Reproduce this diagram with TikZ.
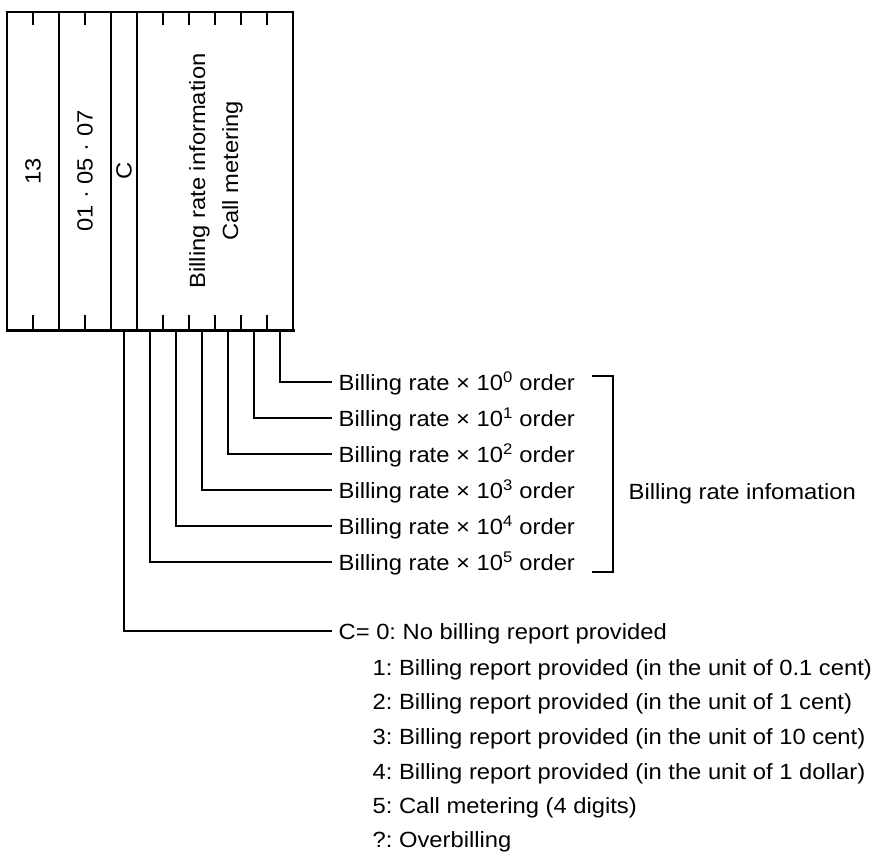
\documentclass[tikz,border=0pt]{standalone}
\usepackage{fontspec}
\setmainfont{Liberation Sans}[FakeStretch=1.08]
\frenchspacing
\begin{document}
\begin{tikzpicture}[x=1pt,y=-1pt,line width=1.3pt,
  lbl/.style={font=\fontsize{22}{33}\selectfont,inner sep=0pt},
  item/.style={lbl,anchor=base west},
  frame/.style={line width=1.4pt},
  lead/.style={line width=1.3pt},
  gap/.style={xshift=-6pt,yshift=8pt}]
\useasboundingbox (0,0) rectangle (888,852);

% field frame
\draw[frame] (7,330) -- (7,12) -- (293,12) -- (293,330);
\foreach \x in {59,111,137} \draw[frame] (\x,12) -- (\x,330);
\foreach \x in {33,85,163,189,215,241,267} {
  \draw[frame] (\x,12) -- (\x,25);
  \draw[frame] (\x,315) -- (\x,330);
}
\draw[line width=3pt] (6,330) -- (295,330);

% field contents
\node[lbl,rotate=90] (f13) at (33,171) {13};
\node[lbl,rotate=90] (fadr) at (85,171) {01 · 05 · 07};
\node[lbl,rotate=90] (fc) at (124,171) {C};
\node[lbl,rotate=90,align=center] (fbill) at (216,171) {Billing rate information\\Call metering};

% bit positions under the field
\coordinate (cbit) at (124,331);
\coordinate (b5) at (150,331);
\coordinate (b4) at (176,331);
\coordinate (b3) at (202,331);
\coordinate (b2) at (228,331);
\coordinate (b1) at (254,331);
\coordinate (b0) at (280,331);

% billing rate digits
\node[item] (t0) at (338,390) {Billing rate × 10\textsuperscript{0} order};
\node[item] (t1) at (338,426) {Billing rate × 10\textsuperscript{1} order};
\node[item] (t2) at (338,462) {Billing rate × 10\textsuperscript{2} order};
\node[item] (t3) at (338,498) {Billing rate × 10\textsuperscript{3} order};
\node[item] (t4) at (338,534) {Billing rate × 10\textsuperscript{4} order};
\node[item] (t5) at (338,570) {Billing rate × 10\textsuperscript{5} order};
\foreach \i in {0,...,5} \draw[lead] (b\i) |- ([gap]t\i.base west);

% bracket and group label
\coordinate (brt) at (592,376);
\coordinate (brb) at (592,572);
\draw[lead] (brt) -- ++(21,0) |- (brb);
\node[item] (grp) at (628,499) {Billing rate infomation};

% C values
\node[item] (c0) at (338,639) {C= 0: No billing report provided};
\node[item] (c1) at (372,675) {1: Billing report provided (in the unit of 0.1 cent)};
\node[item] (c2) at (372,709) {2: Billing report provided (in the unit of 1 cent)};
\node[item] (c3) at (372,744) {3: Billing report provided (in the unit of 10 cent)};
\node[item] (c4) at (372,779) {4: Billing report provided (in the unit of 1 dollar)};
\node[item] (c5) at (372,813) {5: Call metering (4 digits)};
\node[item] (c6) at (372,847) {?: Overbilling};
\draw[lead] (cbit) |- ([gap]c0.base west);
\end{tikzpicture}
\end{document}
